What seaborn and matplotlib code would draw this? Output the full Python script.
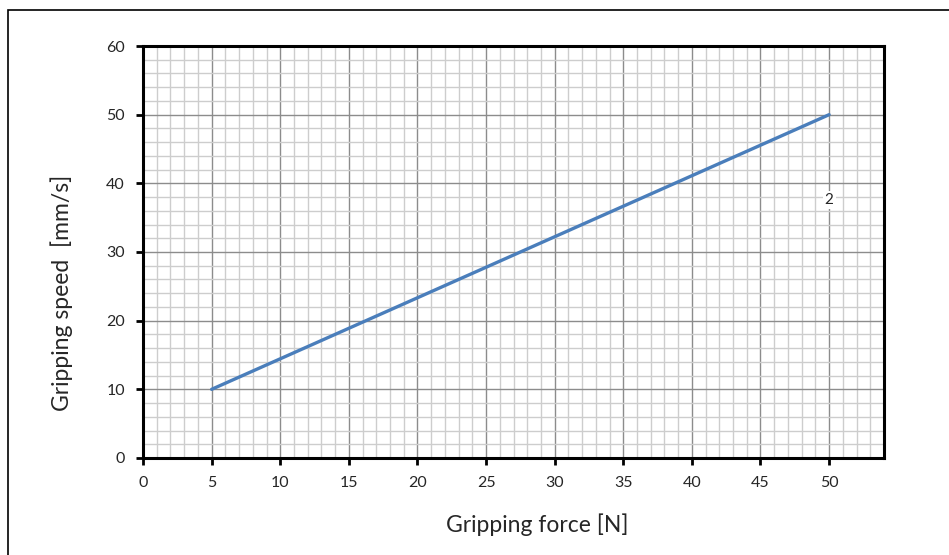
import numpy as np
import pandas as pd
import matplotlib
matplotlib.use("Agg")
import matplotlib.pyplot as plt
import seaborn as sns
from matplotlib.ticker import MultipleLocator
from matplotlib.patches import Rectangle

# ── Data ────────────────────────────────────────────────────────────────
force = [5, 50]
speed = [10, 50]
label_x = 50
label_y = 37.6
label_text = "2"

df = pd.DataFrame({"force": force, "speed": speed})

# ── Style ───────────────────────────────────────────────────────────────
sns.set_theme(style="white")
plt.rcParams['font.family'] = ['Lato', 'DejaVu Sans']

fig = plt.figure(figsize=(9.49, 5.55), dpi=100)
ax = fig.add_axes([0.1507, 0.1748, 0.7808, 0.7423])

# grid
ax.xaxis.set_major_locator(MultipleLocator(5))
ax.xaxis.set_minor_locator(MultipleLocator(1))
ax.yaxis.set_major_locator(MultipleLocator(10))
ax.yaxis.set_minor_locator(MultipleLocator(2))
ax.grid(which='minor', color='#cdcdcd', lw=1.0, zorder=0)
ax.grid(which='major', color='#8c8c8c', lw=1.0, zorder=0)
ax.set_axisbelow(True)

sns.lineplot(data=df, x="force", y="speed", color='#4a7ebb', lw=2.4, ax=ax)

ax.text(label_x, label_y, label_text, ha='center', va='center', fontsize=11,
        bbox=dict(facecolor='white', edgecolor='none', pad=1.5))

ax.set_xlim(0, 54)
ax.set_ylim(0, 60)

for s in ax.spines.values():
    s.set_visible(True)
    s.set_color('black')
    s.set_linewidth(2.2)

ax.tick_params(which='major', direction='out', length=5, width=2,
               color='black', labelsize=11.5, pad=8, bottom=True, left=True)
ax.tick_params(which='minor', length=0)

ax.set_xlabel("Gripping force [N]", fontsize=16.5)
ax.set_ylabel("Gripping speed  [mm/s]", fontsize=16.5)
ax.xaxis.set_label_coords(0.532, -0.135)
ax.yaxis.set_label_coords(-0.094, 0.40)

# outer frame (left and top edges visible)
fig.add_artist(Rectangle((8 / 949, -0.1), 1.2, 1.1 - 10 / 555,
                         transform=fig.transFigure, fill=False,
                         edgecolor='black', lw=1.2))

fig.savefig("out.png", dpi=100)
